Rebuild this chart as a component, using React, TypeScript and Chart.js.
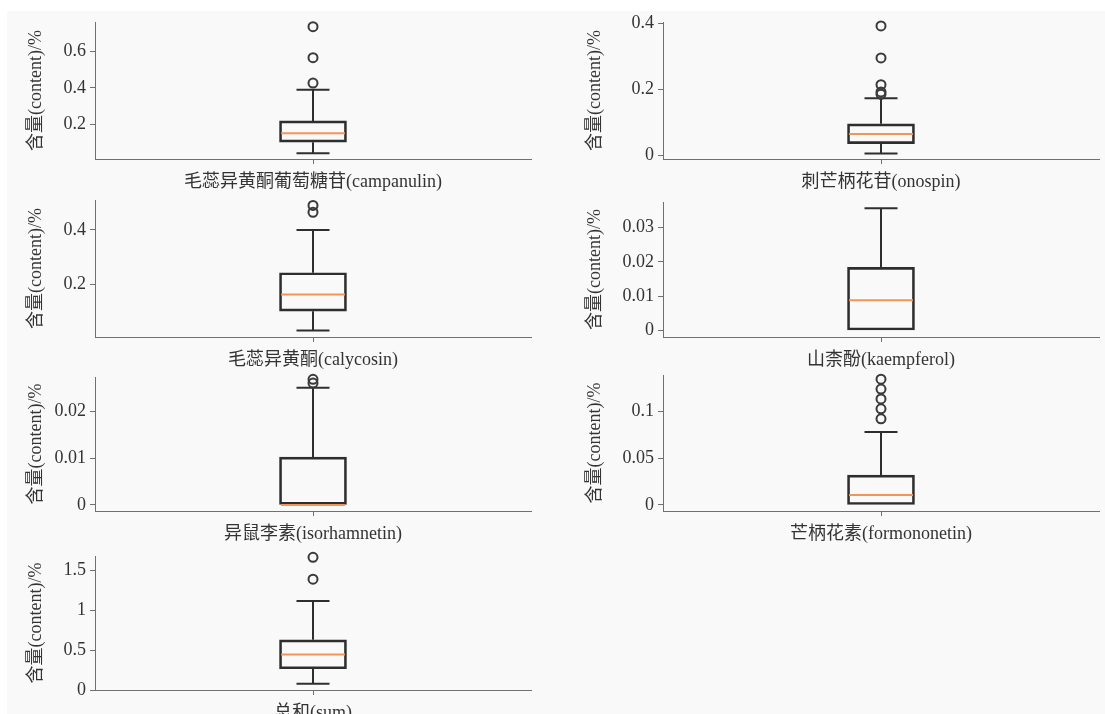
import React, { useEffect, useRef } from "react";
import { Chart, registerables } from "chart.js";
Chart.register(...registerables);

// ---- data ----
const names = [
  "毛蕊异黄酮葡萄糖苷(campanulin)",
  "刺芒柄花苷(onospin)",
  "毛蕊异黄酮(calycosin)",
  "山柰酚(kaempferol)",
  "异鼠李素(isorhamnetin)",
  "芒柄花素(formononetin)",
  "总和(sum)",
];
const whiskerLow = [0.04, 0.007, 0.031, 0, 0, 0, 0.08];
const q1 = [0.101, 0.0365, 0.102, 0, 0, 0, 0.267];
const median = [0.15, 0.066, 0.163, 0.0088, 0, 0.0106, 0.446];
const q3 = [0.218, 0.0965, 0.243, 0.0184, 0.0102, 0.0318, 0.63];
const whiskerHigh = [0.39, 0.174, 0.4, 0.0357, 0.025, 0.0777, 1.12];
const outliers = [
  [0.427, 0.567, 0.738],
  [0.186, 0.193, 0.215, 0.296, 0.393],
  [0.465, 0.49],
  [],
  [0.026, 0.0268],
  [0.0918, 0.1025, 0.113, 0.1235, 0.134],
  [1.393, 1.667],
];
const yTickValues = [
  [0.2, 0.4, 0.6],
  [0, 0.2, 0.4],
  [0.2, 0.4],
  [0, 0.01, 0.02, 0.03],
  [0, 0.01, 0.02],
  [0, 0.05, 0.1],
  [0, 0.5, 1, 1.5],
];
const yTickLabels = [
  ["0.2", "0.4", "0.6"],
  ["0", "0.2", "0.4"],
  ["0.2", "0.4"],
  ["0", "0.01", "0.02", "0.03"],
  ["0", "0.01", "0.02"],
  ["0", "0.05", "0.1"],
  ["0", "0.5", "1", "1.5"],
];
const yMin = [0.008, -0.01, 0.007, -0.0019, -0.0013, -0.0064, 0];
const yMax = [0.764, 0.405, 0.51, 0.0375, 0.0273, 0.1385, 1.684];
const yTitle = "含量(content)/%";

// ---- layout (axis rectangles in page pixels) ----
const panels = [
  { left: 95, right: 531, top: 22, bottom: 159, yW: 70 },
  { left: 663, right: 1099, top: 22, bottom: 159, yW: 79 },
  { left: 95, right: 531, top: 200, bottom: 337, yW: 70 },
  { left: 663, right: 1099, top: 202, bottom: 337, yW: 79 },
  { left: 95, right: 531, top: 377, bottom: 511, yW: 70 },
  { left: 663, right: 1099, top: 375, bottom: 511, yW: 79 },
  { left: 95, right: 531, top: 556, bottom: 690, yW: 70 },
];
const TOP_PAD = 16;
const RIGHT_PAD = 10;
const X_H = 40;

const BOX = "#2e2e2e";
const AXIS = "#707070";
const TEXT = "#333333";
const MED = "#f2955a";
const FONT = { family: "'Liberation Serif', 'Noto Sans CJK SC', serif", size: 18 };

function BoxChart({ i }: { i: number }) {
  const ref = useRef<HTMLCanvasElement | null>(null);
  const p = panels[i];
  const cLeft = p.left - p.yW;
  const cTop = p.top - TOP_PAD;
  const w = p.right - cLeft + RIGHT_PAD;
  const h = p.bottom - p.top + TOP_PAD + X_H;

  useEffect(() => {
    if (!ref.current) return;
    const whiskers = {
      id: "whiskers" + i,
      beforeDatasetsDraw(chart: any) {
        const ctx = chart.ctx;
        const xs = chart.scales.x;
        const ys = chart.scales.y;
        const x = xs.getPixelForValue(0);
        const cap = 16.5;
        ctx.save();
        ctx.strokeStyle = BOX;
        ctx.lineWidth = 2;
        ctx.lineCap = "butt";
        const seg = (x1: number, y1: number, x2: number, y2: number) => {
          ctx.beginPath();
          ctx.moveTo(x1, y1);
          ctx.lineTo(x2, y2);
          ctx.stroke();
        };
        const yLo = ys.getPixelForValue(whiskerLow[i]);
        const yQ1 = ys.getPixelForValue(q1[i]);
        const yQ3 = ys.getPixelForValue(q3[i]);
        const yHi = ys.getPixelForValue(whiskerHigh[i]);
        if (whiskerLow[i] < q1[i]) {
          seg(x, yQ1, x, yLo);
          seg(x - cap, yLo, x + cap, yLo);
        }
        if (whiskerHigh[i] > q3[i]) {
          seg(x, yQ3, x, yHi);
          seg(x - cap, yHi, x + cap, yHi);
        }
        ctx.restore();
      },
      afterDatasetsDraw(chart: any) {
        const ctx = chart.ctx;
        const x = chart.scales.x.getPixelForValue(0);
        const y = chart.scales.y.getPixelForValue(median[i]);
        ctx.save();
        ctx.strokeStyle = MED;
        ctx.lineWidth = 2;
        ctx.beginPath();
        ctx.moveTo(x - 32, y);
        ctx.lineTo(x + 32, y);
        ctx.stroke();
        ctx.restore();
      },
    };

    const chart = new Chart(ref.current, {
      type: "bar",
      data: {
        labels: [names[i]],
        datasets: [
          {
            type: "bar",
            data: [[q1[i], q3[i]]] as any,
            backgroundColor: "rgba(0,0,0,0)",
            borderColor: BOX,
            borderWidth: 2,
            borderSkipped: false,
            barThickness: 67,
            clip: false as any,
          },
          {
            type: "line",
            data: outliers[i].map((v) => ({ x: names[i], y: v })) as any,
            showLine: false,
            pointRadius: 4.5,
            pointBorderWidth: 2,
            pointBorderColor: "#3a3a3a",
            pointBackgroundColor: "rgba(0,0,0,0)",
            clip: false as any,
          },
        ],
      },
      options: {
        animation: false,
        responsive: false,
        events: [],
        layout: { padding: { top: TOP_PAD, left: 0, right: RIGHT_PAD, bottom: 0 } },
        plugins: { legend: { display: false }, tooltip: { enabled: false } },
        scales: {
          x: {
            type: "category",
            offset: true,
            grid: {
              display: true,
              drawOnChartArea: false,
              drawTicks: true,
              tickLength: 5,
              color: AXIS,
              offset: false,
            },
            border: { display: true, color: AXIS, width: 1 },
            ticks: { font: FONT, color: TEXT, padding: 7, maxRotation: 0, autoSkip: false },
            afterFit: (s: any) => {
              s.height = X_H;
              s.paddingLeft = 0;
              s.paddingRight = 0;
            },
          },
          y: {
            type: "linear",
            min: yMin[i],
            max: yMax[i],
            afterBuildTicks: (s: any) => {
              s.ticks = yTickValues[i].map((v) => ({ value: v }));
            },
            grid: {
              display: true,
              drawOnChartArea: false,
              drawTicks: true,
              tickLength: 5,
              color: AXIS,
            },
            border: { display: true, color: AXIS, width: 1 },
            ticks: {
              font: FONT,
              color: TEXT,
              padding: 4,
              callback: (_v: any, idx: number) => yTickLabels[i][idx],
            },
            title: { display: true, text: yTitle, font: FONT, color: TEXT, padding: 0 },
            afterFit: (s: any) => {
              s.width = p.yW;
              s.paddingTop = 0;
              s.paddingBottom = 0;
            },
          },
        },
      } as any,
      plugins: [whiskers],
    } as any);
    return () => chart.destroy();
  }, [i]);

  return (
    <canvas
      ref={ref}
      width={w}
      height={h}
      style={{ position: "absolute", left: cLeft, top: cTop, width: w, height: h }}
    />
  );
}

export default function App() {
  return (
    <div
      style={{
        position: "absolute",
        left: 0,
        top: 0,
        width: 1105,
        height: 714,
        overflow: "hidden",
        background: "#ffffff",
      }}
    >
      <div
        style={{
          position: "absolute",
          left: 7,
          top: 11,
          right: 0,
          bottom: 0,
          background: "#f9f9f9",
        }}
      />
      {names.map((_, i) => (
        <BoxChart key={i} i={i} />
      ))}
    </div>
  );
}
